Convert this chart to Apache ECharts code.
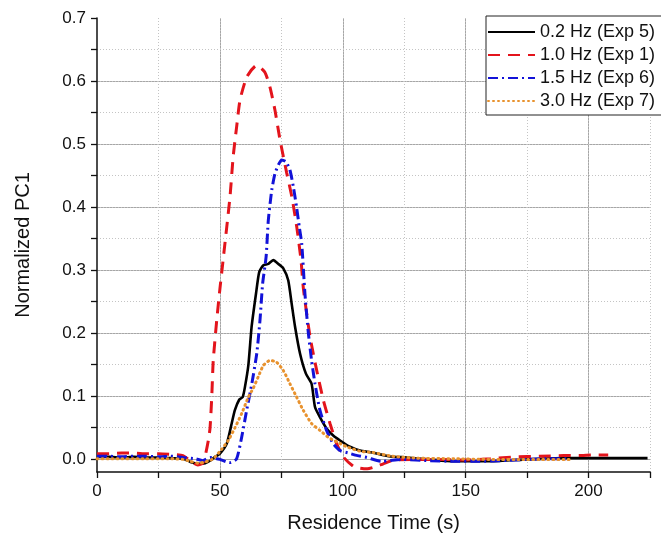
<!DOCTYPE html>
<html>
<head>
<meta charset="utf-8">
<script src="https://cdn.jsdelivr.net/npm/echarts@6/dist/echarts.min.js"></script>
<style>html,body{margin:0;padding:0;background:#fff;}#c{width:661px;height:543px;}</style>
</head>
<body>
<div id="c"></div>
<script>
// ---- data ----
const seriesNames = ['0.2 Hz (Exp 5)', '1.0 Hz (Exp 1)', '1.5 Hz (Exp 6)', '3.0 Hz (Exp 7)'];

const tExp5 = [0,5,10,15,20,25,30,35,38,41,44,46.5,48,50,52.8,54.8,56.1,57.9,59.3,60.2,61.6,62.9,64.7,66,67.7,69.7,71.7,73.8,75.8,77.8,79.2,80.6,82.6,85,87.3,88.7,90.7,93.4,96.1,98.9,102.9,107,112,118.7,126,135,145,160,175,190,205,224];
const vExp5 = [0.004,0.004,0.003,0.004,0.003,0.003,0.002,0.001,-0.004,-0.007,-0.006,-0.001,0.004,0.009,0.025,0.057,0.078,0.095,0.099,0.115,0.15,0.21,0.263,0.297,0.308,0.31,0.316,0.31,0.303,0.284,0.247,0.21,0.168,0.136,0.12,0.083,0.067,0.049,0.038,0.03,0.02,0.014,0.011,0.005,0.003,0.0,-0.003,-0.003,0.0,0.002,0.002,0.002];

const tExp1 = [0,5,10,15,20,25,30,35,38.6,41,43,44,45.3,46,46.7,47.3,48.7,50,51.3,54.1,55.4,56.8,58.2,61,65,68.3,70.4,72.4,74.5,77.2,79.3,81.3,83,84,86.7,89.4,92.1,94.8,97.5,100.2,104.3,107,110,113,116.5,121,130,140,150,160,170,180,190,196,202,208];
const vExp1 = [0.009,0.009,0.01,0.01,0.009,0.009,0.008,0.006,-0.004,-0.009,-0.006,0.005,0.03,0.05,0.1,0.157,0.22,0.27,0.316,0.416,0.48,0.527,0.57,0.607,0.625,0.614,0.59,0.554,0.506,0.454,0.416,0.368,0.316,0.27,0.194,0.141,0.094,0.057,0.025,0.004,-0.011,-0.014,-0.015,-0.012,-0.007,-0.001,0.0,0.0,-0.001,0.001,0.004,0.005,0.006,0.006,0.007,0.007];

const tExp6 = [0,5,10,15,20,25,30,35,40,43,46,50,52.8,54.1,56.8,58.9,60.9,63,65,66.3,67.4,68.8,69.7,71.1,72.4,73.8,75.1,76.9,78.5,79.9,81.2,82.3,83.3,84.6,86,87.3,88.7,90.7,93.4,96.1,98.9,102.4,106,109.8,115.7,124.6,135,145,155,165,175,185,192];
const vExp6 = [0.005,0.005,0.004,0.005,0.005,0.004,0.005,0.003,0.001,-0.002,0.003,0.0,-0.004,-0.005,0.001,0.036,0.078,0.12,0.168,0.22,0.279,0.321,0.379,0.427,0.453,0.467,0.475,0.472,0.459,0.432,0.4,0.369,0.342,0.263,0.2,0.157,0.12,0.078,0.046,0.025,0.014,0.01,0.006,0.003,-0.003,0.0,-0.002,-0.003,-0.003,-0.002,0.0,0.001,0.001];

const tExp7 = [0,5,10,15,20,25,30,35,38,41,44,47.3,50.7,53.4,56.1,58.9,61.6,63.6,65.6,67.7,70.4,73.1,75.8,78.5,81.2,83.9,87.3,90.7,94.1,97.5,101.6,107,112,120,130,145,160,175,193];
const vExp7 = [0.001,0.001,0.001,0.001,0.001,0.001,0.001,0.0,-0.003,-0.006,-0.004,0.001,0.016,0.03,0.05,0.073,0.099,0.113,0.131,0.149,0.157,0.154,0.141,0.12,0.099,0.078,0.057,0.046,0.035,0.028,0.02,0.013,0.011,0.005,0.002,0.001,0.0,0.0,0.0];

const xMin = 0, xMax = 225;
const yMin = -0.02, yMax = 0.7;

// ---- chart ----
const pair = (ts, vs) => ts.map((t, i) => [t, vs[i]]);
const FONT = '"Liberation Sans", Arial, sans-serif';
const chart = echarts.init(document.getElementById('c'), null, {renderer: 'canvas'});

const dotted = {color: '#c4c4c4', width: 1, type: [1, 2]};
const solid = {color: '#a6a6a6', width: 1, type: 'solid'};

chart.setOption({
  animation: false,
  backgroundColor: '#fff',
  grid: [
    {left: 97, right: 11, top: 18, bottom: 71, containLabel: false},
    {left: 97, right: 11, top: 18, bottom: 84, containLabel: false}
  ],
  legend: {
    orient: 'vertical', left: 486, top: 16,
    data: seriesNames,
    itemWidth: 47, itemHeight: 14, itemGap: 5,
    padding: [7, 8, 5, 1],
    borderColor: '#222', borderWidth: 1,
    itemStyle: {opacity: 0},
    textStyle: {fontFamily: FONT, fontSize: 18, color: '#111'},
    backgroundColor: '#fff'
  },
  xAxis: [
    {
      type: 'value', gridIndex: 0, min: xMin, max: xMax, interval: 25,
      name: 'Residence Time (s)', nameLocation: 'middle', nameGap: 41,
      nameTextStyle: {fontFamily: FONT, fontSize: 20, color: '#111'},
      axisLine: {show: true, onZero: false, lineStyle: {color: '#111', width: 1.5}},
      axisTick: {show: true, inside: false, length: 6, lineStyle: {color: '#111', width: 1.3}},
      axisLabel: {fontFamily: FONT, fontSize: 17, color: '#111', margin: 11,
        formatter: v => (Math.round(v) % 50 === 0 ? String(Math.round(v)) : '')},
      splitLine: {show: true, lineStyle: dotted, showMinLine: false, showMaxLine: true},
      z: 3
    },
    {
      type: 'value', gridIndex: 0, min: xMin, max: xMax, interval: 50,
      axisLine: {show: false}, axisTick: {show: false}, axisLabel: {show: false},
      splitLine: {show: true, lineStyle: solid, showMinLine: false, showMaxLine: false}
    },
    {
      type: 'value', gridIndex: 1, min: xMin, max: xMax, show: false
    }
  ],
  yAxis: [
    {
      type: 'value', gridIndex: 0, min: yMin, max: yMax,
      name: 'Normalized PC1', nameLocation: 'middle', nameGap: 64,
      nameTextStyle: {fontFamily: FONT, fontSize: 20, color: '#111'},
      axisLine: {show: true, onZero: false, lineStyle: {color: '#111', width: 1.5}},
      axisTick: {show: false}, axisLabel: {show: false}, splitLine: {show: false},
      z: 3
    },
    {
      type: 'value', gridIndex: 1, min: 0, max: yMax, interval: 0.05,
      axisLine: {show: false},
      axisTick: {show: true, inside: false, length: 6, lineStyle: {color: '#111', width: 1.3}},
      axisLabel: {fontFamily: FONT, fontSize: 17, color: '#111', margin: 11,
        formatter: v => (Math.abs(v * 10 - Math.round(v * 10)) < 1e-6 ? v.toFixed(1) : '')},
      splitLine: {show: true, lineStyle: dotted, showMinLine: false, showMaxLine: false},
      z: 3
    },
    {
      type: 'value', gridIndex: 1, min: 0, max: yMax, interval: 0.1,
      axisLine: {show: false}, axisTick: {show: false}, axisLabel: {show: false},
      splitLine: {show: true, lineStyle: solid, showMinLine: true, showMaxLine: false}
    }
  ],
  series: [
    {name: seriesNames[0], type: 'line', xAxisIndex: 0, yAxisIndex: 0, symbol: 'none', smooth: 0.2,
      lineStyle: {color: '#000', width: 2.6, type: 'solid'}, itemStyle: {color: '#000'},
      data: pair(tExp5, vExp5), z: 5},
    {name: seriesNames[1], type: 'line', xAxisIndex: 0, yAxisIndex: 0, symbol: 'none', smooth: 0.2,
      lineStyle: {color: '#e3141c', width: 3, type: [12, 8]}, itemStyle: {color: '#e3141c'},
      data: pair(tExp1, vExp1), z: 6},
    {name: seriesNames[2], type: 'line', xAxisIndex: 0, yAxisIndex: 0, symbol: 'none', smooth: 0.2,
      lineStyle: {color: '#1212d8', width: 3, type: [10, 4, 2, 4]}, itemStyle: {color: '#1212d8'},
      data: pair(tExp6, vExp6), z: 7},
    {name: seriesNames[3], type: 'line', xAxisIndex: 0, yAxisIndex: 0, symbol: 'none', smooth: 0.2,
      lineStyle: {color: '#e8922e', width: 3, type: [1, 4], cap: 'round'}, itemStyle: {color: '#e8922e'},
      data: pair(tExp7, vExp7), z: 8}
  ]
});
</script>
</body>
</html>
